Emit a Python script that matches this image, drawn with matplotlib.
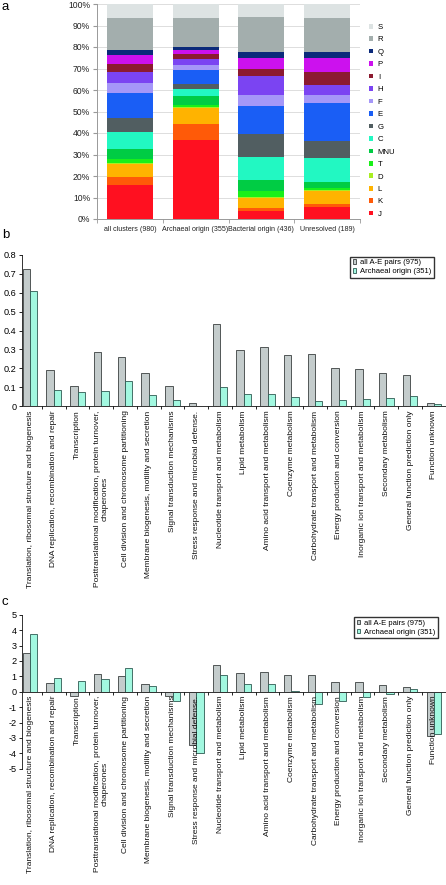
import matplotlib
matplotlib.use("Agg")
import matplotlib.pyplot as plt
import numpy as np
from matplotlib.patches import Patch

plt.rcParams['font.family'] = ['Liberation Sans', 'DejaVu Sans']

# ---------------- Panel a data ----------------
groups_a = ["all clusters (980)", "Archaeal origin (355)", "Bacterial origin (436)", "Unresolved (189)"]
cog_classes = ["J", "K", "L", "D", "T", "MNU", "C", "G", "E", "F", "H", "I", "P", "Q", "R", "S"]
cog_colors = ["#ff1020", "#ff5a08", "#ffb300", "#a8ee22", "#19f019", "#00cc44", "#22f8c2",
              "#515e61", "#1a5ef5", "#a597f8", "#7b44f2", "#8c1a30", "#cc11ee", "#0b2a7a",
              "#a3aead", "#dde3e3"]
# percentage of each class per group (columns follow groups_a)
pct_J = [16.0, 36.6, 3.5, 5.8]
pct_K = [3.7, 7.4, 1.6, 1.4]
pct_L = [6.1, 7.4, 4.6, 5.6]
pct_D = [0.3, 0.8, 0.6, 0.9]
pct_T = [1.7, 0.9, 2.5, 0.9]
pct_MNU = [4.7, 4.1, 5.4, 2.8]
pct_C = [8.0, 3.3, 10.6, 11.2]
pct_G = [6.7, 2.3, 10.9, 7.7]
pct_E = [11.6, 6.3, 12.8, 17.5]
pct_F = [4.3, 2.7, 5.3, 4.0]
pct_H = [5.4, 2.8, 8.8, 4.5]
pct_I = [3.7, 2.2, 3.1, 6.2]
pct_P = [4.3, 1.7, 5.2, 6.3]
pct_Q = [2.0, 1.7, 2.6, 2.7]
pct_R = [15.2, 13.2, 16.3, 16.0]
pct_S = [6.3, 6.6, 6.2, 6.5]
pct_all = [pct_J, pct_K, pct_L, pct_D, pct_T, pct_MNU, pct_C, pct_G, pct_E, pct_F,
           pct_H, pct_I, pct_P, pct_Q, pct_R, pct_S]

# ---------------- Panel b / c data ----------------
categories = [
    "Translation, ribosomal structure and biogenesis",
    "DNA replication, recombination and repair",
    "Transcription",
    "Posttranslational modification, protein turnover,\nchaperones",
    "Cell division and chromosome partitioning",
    "Membrane biogenesis, motility and secretion",
    "Signal transduction mechanisms",
    "Stress response and microbial defense.",
    "Nucleotide transport and metabolism",
    "Lipid metabolism",
    "Amino acid transport and metabolism",
    "Coenzyme metabolism",
    "Carbohydrate transport and metabolism",
    "Energy production and conversion",
    "Inorganic ion transport and metabolism",
    "Secondary metabolism",
    "General function prediction only",
    "Function unknown",
]
series_names = ["all A-E pairs (975)", "Archaeal origin (351)"]
b_all = [0.722, 0.190, 0.105, 0.285, 0.262, 0.176, 0.105, 0.019, 0.432, 0.295,
         0.311, 0.271, 0.276, 0.200, 0.195, 0.174, 0.163, 0.019]
b_arch = [0.606, 0.084, 0.074, 0.079, 0.132, 0.062, 0.032, 0.0, 0.100, 0.067,
          0.067, 0.047, 0.026, 0.032, 0.037, 0.042, 0.053, 0.010]
c_all = [2.49, 0.54, -0.30, 1.13, 1.00, 0.48, -0.30, -3.45, 1.72, 1.19,
         1.26, 1.06, 1.10, 0.65, 0.61, 0.41, 0.32, -2.85]
c_arch = [3.72, 0.89, 0.67, 0.80, 1.52, 0.35, -0.60, -4.0, 1.08, 0.52,
          0.48, 0.06, -0.82, -0.63, -0.35, -0.13, 0.15, -2.75]

b_ticks = [0, 0.1, 0.2, 0.3, 0.4, 0.5, 0.6, 0.7, 0.8]
b_ticklabels = ["0", "0.1", "0.2", "0.3", "0.4", "0.5", "0.6", "0.7", "0.8"]
c_ticks = list(range(-5, 6))

GRAY = "#c4cccc"
TEAL = "#a2f8e0"
GRAY_E = "#3a3f3f"
TEAL_E = "#2e5a52"

W, H = 446, 885
fig = plt.figure(figsize=(W / 100, H / 100), dpi=100)

def ax_px(l, t, r, b):
    return fig.add_axes([l / W, 1 - b / H, (r - l) / W, (b - t) / H])

# ---------------- Panel a ----------------
axa = ax_px(97, 4, 360, 219)
xa = np.arange(len(groups_a))
bottom = np.zeros(len(groups_a))
handles = []
for cls, col, vals in zip(cog_classes, cog_colors, pct_all):
    axa.bar(xa, vals, 0.70, bottom=bottom, color=col, edgecolor='none', zorder=3)
    bottom += np.array(vals)
    handles.append(Patch(facecolor=col, edgecolor='none', label=cls))
axa.set_xlim(-0.5, 3.5)
axa.set_ylim(0, 100)
axa.set_yticks(np.arange(0, 101, 10))
axa.set_yticklabels([f"{v}%" for v in range(0, 101, 10)], fontsize=6.2, color="#222222")
axa.set_xticks(xa)
axa.set_xticklabels(groups_a, fontsize=5.1, color="#222222")
axa.set_xticks(np.arange(-0.5, 3.6, 1), minor=True)
axa.tick_params(axis='x', which='major', length=0, pad=5)
axa.tick_params(axis='x', which='minor', length=3, color='#999999')
axa.tick_params(axis='y', length=3, color='#999999', pad=2)
axa.grid(axis='y', color='#d8d8d8', linewidth=0.6, zorder=0)
for s in ['top', 'right']:
    axa.spines[s].set_visible(False)
for s in ['left', 'bottom']:
    axa.spines[s].set_color('#999999')
    axa.spines[s].set_linewidth(0.7)
leg = fig.legend(handles=handles[::-1], loc='upper left',
                 bbox_to_anchor=(365 / W, 1 - 20 / H), frameon=False,
                 fontsize=5.6, handlelength=0.55, handleheight=0.55,
                 handletextpad=0.6, labelspacing=0.69, borderpad=0)

fig.text(2 / W, 1 - 1 / H, "a", fontsize=9.5, va='top', ha='left')
fig.text(2 / W, 1 - 229 / H, "b", fontsize=9.5, va='top', ha='left')
fig.text(2 / W, 1 - 596 / H, "c", fontsize=9.5, va='top', ha='left')

# ---------------- Panels b and c ----------------
def grouped(ax, v1, v2):
    x = np.arange(len(categories))
    w = 0.31
    ax.set_axisbelow(False)
    ax.bar(x - w / 2, v1, w, color=GRAY, edgecolor=GRAY_E, linewidth=0.6, label=series_names[0], zorder=1)
    ax.bar(x + w / 2, v2, w, color=TEAL, edgecolor=TEAL_E, linewidth=0.6, label=series_names[1], zorder=1)
    ax.set_xlim(-0.337, 17.51)
    ax.set_xticks(x)
    ax.set_xticklabels(categories, rotation=90, fontsize=6.0, ha='center', va='top',
                       multialignment='center', color='#111111', linespacing=1.1)
    ax.set_xticks(np.arange(0.5, 17.6, 1), minor=True)
    ax.tick_params(axis='x', which='major', length=0, pad=3)
    ax.tick_params(axis='x', which='minor', length=2.5, width=0.6)
    ax.tick_params(axis='y', length=2.5, width=0.6, pad=1.5, labelsize=6.6)
    for s in ['top', 'right']:
        ax.spines[s].set_visible(False)
    for s in ['left', 'bottom']:
        ax.spines[s].set_linewidth(0.7)
        ax.spines[s].set_color('#333333')

legend_kw = dict(fontsize=5.5, frameon=True, fancybox=False, edgecolor='#333333', framealpha=1,
                 handlelength=0.5, handleheight=0.5, handletextpad=0.5, labelspacing=0.25,
                 borderpad=0.35, borderaxespad=0)

axb = ax_px(22, 254.7, 446, 406.3)
grouped(axb, b_all, b_arch)
axb.set_ylim(0, 0.8)
axb.set_yticks(b_ticks)
axb.set_yticklabels(b_ticklabels)
axb.legend(loc='upper left', bbox_to_anchor=((350 - 22) / 424, 1.0 + (254.7 - 256.5) / 151.6),
           **legend_kw)

axc = ax_px(22, 614.7, 446, 768.7)
axc.spines['bottom'].set_position(('data', 0))
grouped(axc, c_all, c_arch)
axc.set_ylim(-5, 5)
axc.set_yticks(c_ticks)
axc.set_yticklabels([str(v) for v in c_ticks])
axc.legend(loc='upper left', bbox_to_anchor=((354 - 22) / 424, (768.7 - 617) / 154.0),
           **legend_kw)

fig.savefig("out.png", dpi=100)
